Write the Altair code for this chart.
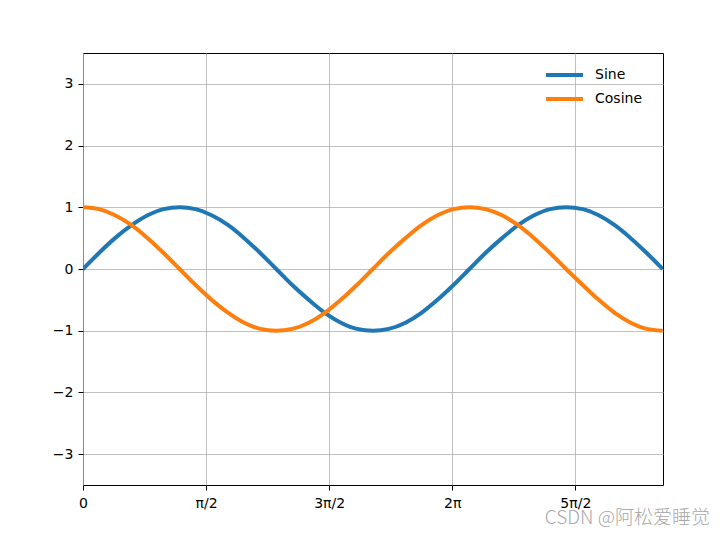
import altair as alt
import pandas as pd

# x positions (0 .. 3π in steps of π/12) and values
x_vals = [0.00, 0.26, 0.52, 0.79, 1.05, 1.31, 1.57, 1.83, 2.09, 2.36, 2.62, 2.88,
          3.14, 3.40, 3.67, 3.93, 4.19, 4.45, 4.71, 4.97, 5.24, 5.50, 5.76, 6.02,
          6.28, 6.54, 6.81, 7.07, 7.33, 7.59, 7.85, 8.12, 8.38, 8.64, 8.90, 9.16, 9.42]
sine_vals = [0.00, 0.26, 0.50, 0.71, 0.87, 0.97, 1.00, 0.97, 0.87, 0.71, 0.50, 0.26,
             0.00, -0.26, -0.50, -0.71, -0.87, -0.97, -1.00, -0.97, -0.87, -0.71, -0.50, -0.26,
             0.00, 0.26, 0.50, 0.71, 0.87, 0.97, 1.00, 0.97, 0.87, 0.71, 0.50, 0.26, 0.00]
cosine_vals = [1.00, 0.97, 0.87, 0.71, 0.50, 0.26, 0.00, -0.26, -0.50, -0.71, -0.87, -0.97,
               -1.00, -0.97, -0.87, -0.71, -0.50, -0.26, 0.00, 0.26, 0.50, 0.71, 0.87, 0.97,
               1.00, 0.97, 0.87, 0.71, 0.50, 0.26, 0.00, -0.26, -0.50, -0.71, -0.87, -0.97, -1.00]
series_names = ["Sine", "Cosine"]
series_colors = ["#1f77b4", "#ff7f0e"]
x_ticks = [0, 2, 4, 6, 8]
x_tick_labels = ["0", "π/2", "3π/2", "2π", "5π/2"]
y_ticks = [-3, -2, -1, 0, 1, 2, 3]
watermark = "CSDN @阿松爱睡觉"

rows = []
for xv, s, c in zip(x_vals, sine_vals, cosine_vals):
    rows.append({"x": xv, "y": s, "series": "Sine"})
    rows.append({"x": xv, "y": c, "series": "Cosine"})
df = pd.DataFrame(rows)

label_expr = " : ".join(
    f"datum.value == {v} ? '{l}'" for v, l in zip(x_ticks, x_tick_labels)
) + " : ''"

font = "DejaVu Sans"

lines = alt.Chart(df).mark_line(strokeWidth=4, interpolate="monotone", clip=True).encode(
    x=alt.X("x:Q",
            scale=alt.Scale(domain=[0, 9.42477], nice=False, zero=False),
            axis=alt.Axis(values=x_ticks, labelExpr=label_expr, title=None,
                          grid=True, gridColor="#b0b0b0", gridWidth=0.8,
                          domain=False, tickColor="black", tickSize=5,
                          labelColor="black", labelFont=font, labelFontSize=14,
                          labelPadding=6, labelFlush=False)),
    y=alt.Y("y:Q",
            scale=alt.Scale(domain=[-3.5, 3.5], nice=False, zero=False),
            axis=alt.Axis(values=y_ticks, format="d", title=None,
                          grid=True, gridColor="#b0b0b0", gridWidth=0.8,
                          domain=False, tickColor="black", tickSize=5,
                          labelColor="black", labelFont=font, labelFontSize=14,
                          labelPadding=5)),
    color=alt.Color("series:N",
                    scale=alt.Scale(domain=series_names, range=series_colors),
                    legend=alt.Legend(title=None, orient="none", legendX=461, legendY=15,
                                      symbolType="stroke", symbolStrokeWidth=4,
                                      symbolSize=1369, clipHeight=14,
                                      labelFont=font, labelFontSize=14,
                                      labelColor="black", labelOffset=10, rowPadding=10)),
    detail="series:N",
)

wm = alt.Chart(pd.DataFrame({"t": [watermark]})).mark_text(
    align="right", baseline="alphabetic", fontSize=19, font="Noto Sans CJK SC",
    fontWeight=300, color="#a0a0a0", opacity=0.9
).encode(text="t:N", x=alt.value(627), y=alt.value(471))

chart = alt.layer(lines, wm).properties(
    width=580, height=432,
    padding={"left": 83, "top": 53, "right": 63, "bottom": 50},
    autosize=alt.AutoSizeParams(type="none"),
    background="white",
).configure_view(stroke="black", strokeWidth=1)

chart.save("out.html", embed_options={"renderer": "svg", "actions": False})
